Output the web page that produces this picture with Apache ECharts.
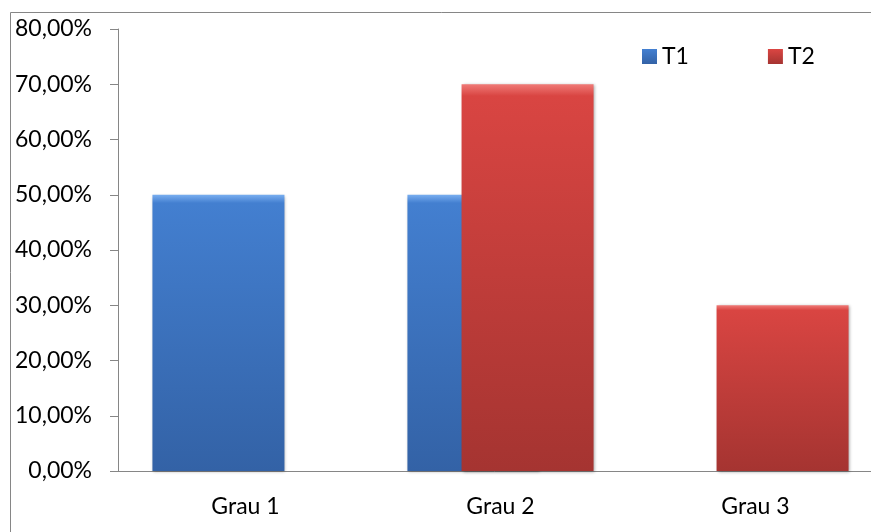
<!DOCTYPE html>
<html>
<head>
<meta charset="utf-8">
<script src="https://cdn.jsdelivr.net/npm/echarts@6/dist/echarts.min.js"></script>
<style>
  html, body { margin: 0; padding: 0; background: #fff; }
  #chart { width: 871px; height: 532px; }
</style>
</head>
<body>
<div id="chart"></div>
<script>
const categories = ['Grau 1', 'Grau 2', 'Grau 3']
const t1Values = [50, 50, 0]
const t2Values = [0, 70, 30]
const yTicks = { min: 0, max: 80, interval: 10 }

const axisGray = '#868686'
const font = 'Lato, "Open Sans", sans-serif'

function bevel (light, top, bottom) {
  return new echarts.graphic.LinearGradient(0, 0, 0, 1, [
    { offset: 0, color: light },
    { offset: 0.03, color: top },
    { offset: 1, color: bottom }
  ])
}

const chart = echarts.init(document.getElementById('chart'))
chart.setOption({
  animation: false,
  textStyle: { fontFamily: font },
  graphic: [{
    type: 'rect',
    shape: { x: 10.5, y: 12.5, width: 900, height: 600 },
    style: { fill: 'none', stroke: axisGray, lineWidth: 1 },
    silent: true
  }],
  grid: {
    left: 118,
    top: 29,
    width: 765,
    bottom: 61,
    containLabel: false,
    outerBoundsMode: 'none'
  },
  legend: {
    left: 637,
    top: 40,
    icon: 'rect',
    itemWidth: 15,
    itemHeight: 15,
    itemGap: 79,
    textStyle: { fontSize: 23, color: '#000', fontFamily: font },
    data: ['T1', 'T2']
  },
  xAxis: {
    type: 'category',
    data: categories,
    axisLine: { lineStyle: { color: axisGray } },
    axisTick: { length: 8, lineStyle: { color: axisGray } },
    axisLabel: { fontSize: 23, color: '#000', margin: 24 }
  },
  yAxis: {
    type: 'value',
    min: yTicks.min,
    max: yTicks.max,
    interval: yTicks.interval,
    splitLine: { show: false },
    axisLine: { show: true, lineStyle: { color: axisGray } },
    axisTick: { show: true, length: 8, lineStyle: { color: axisGray } },
    axisLabel: {
      fontSize: 23,
      color: '#000',
      margin: 26,
      formatter: v => v.toFixed(2).replace('.', ',') + '%'
    }
  },
  series: [
    {
      name: 'T1',
      type: 'bar',
      data: t1Values,
      barWidth: 132,
      barGap: '-59%',
      itemStyle: {
        color: bevel('#79aef0', '#437fd0', '#3362a6'),
        shadowBlur: 3,
        shadowOffsetX: 1,
        shadowOffsetY: 1,
        shadowColor: 'rgba(0,0,0,0.35)'
      }
    },
    {
      name: 'T2',
      type: 'bar',
      data: t2Values,
      barWidth: 132,
      itemStyle: {
        color: bevel('#f07a77', '#d94542', '#a53431'),
        shadowBlur: 3,
        shadowOffsetX: 1,
        shadowOffsetY: 1,
        shadowColor: 'rgba(0,0,0,0.35)'
      }
    }
  ]
})
</script>
</body>
</html>
